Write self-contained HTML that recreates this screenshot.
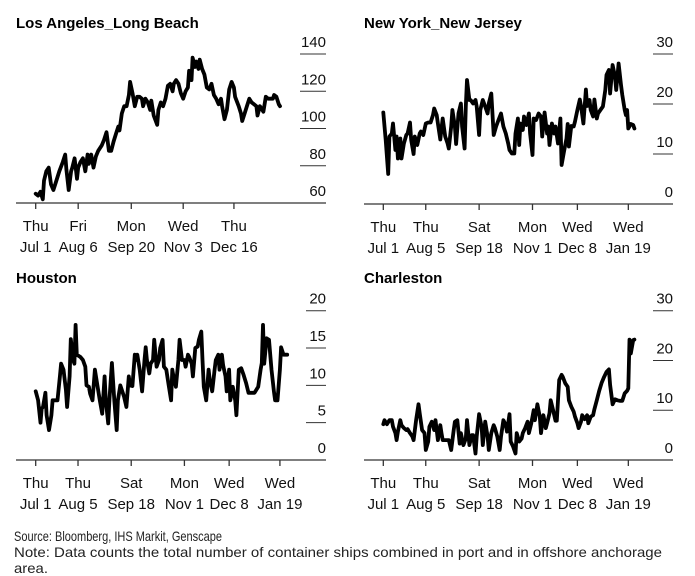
<!DOCTYPE html>
<html><head><meta charset="utf-8"><style>
html,body{margin:0;padding:0;background:#fff;}
svg{display:block;font-family:"Liberation Sans",Arial,sans-serif;}
</style></head><body>
<svg id="c" width="695" height="576" viewBox="0 0 695 576" xmlns="http://www.w3.org/2000/svg">
<g font-size="14" fill="#222">
<text x="14" y="541" textLength="208" lengthAdjust="spacingAndGlyphs">Source: Bloomberg, IHS Markit, Genscape</text>
<text x="14" y="557" textLength="648" lengthAdjust="spacingAndGlyphs">Note: Data counts the total number of container ships combined in port and in offshore anchorage</text>
<text x="14" y="573" textLength="34" lengthAdjust="spacingAndGlyphs">area.</text>
</g>
</svg>
<script>
// ---- data ----
const laDays=[0,2,4,6,7,9,11,13,15,17,20,23,25,26,28,30,31,33,35,36,38,40,42,44,45,47,49,51,53,56,58,60,62,64,66,68,70,71,73,75,77,79,80,82,84,86,88,90,91,93,95,97,98,100,103,104,106,108,110,112,114,116,117,119,121,123,125,127,129,130,132,133,135,136,138,139,141,143,145,147,149,151,153,155,157,158,160,162,164,166,168,169,172,174,175,177,179,181,183,185,187,188,190,191,193,195,197,199,201,202,204,206,207];
const laValues=[65,64,66,62,72,77,79,70,67,71,77,82,86,78,67,77,79,84,73,79,82,84,77,86,81,86,79,85,88,91,94,98,88,88,93,97,101,99,108,112,112,118,125,119,112,117,117,116,112,116,114,110,115,107,102,110,114,112,116,123,124,120,124,126,124,119,116,120,122,131,126,138,133,136,132,137,132,129,122,121,124,118,116,113,116,112,105,110,121,125,122,117,112,108,104,108,112,116,114,113,112,107,112,111,109,117,116,116,116,118,117,113,112];
const nyDays=[0,2,4,5,7,8,10,11,12,14,15,17,19,20,22,23,25,26,28,30,31,33,35,37,39,41,42,44,45,47,48,49,51,53,54,56,57,59,60,62,64,65,67,68,69,71,72,74,76,77,79,80,82,84,86,87,89,91,93,95,97,99,101,103,104,106,108,109,111,112,113,115,116,118,120,121,123,124,126,128,130,131,133,135,136,137,139,141,142,144,146,147,149,151,152,153,155,157,158,160,162,163,165,167,168,170,171,173,174,176,177,179,181,183,184,186,187,189,191,192,194,196,197,199,200,201,202,204,206,207];
const nyValues=[18.3,12.8,6,13.5,14.1,16.1,10.8,13.5,9.1,13.1,9.1,12.1,13.8,14.1,16.3,12.8,10,13.5,11.8,14.1,14.5,13.8,16.1,16.3,16.3,17.8,19.1,17.8,16.1,12.9,15.1,17.1,13.5,12.1,11.1,15.5,18.8,15.5,12,18.1,20.1,15.5,11.1,19.5,24.8,20.8,20.8,20.1,20.8,19.5,13.8,18.8,20.8,19.5,18.1,20.1,22.1,13.8,15.5,16.8,18.1,15.5,14.1,12.1,10.8,10.1,10.1,14.1,17.1,11.8,16.1,14.8,17.5,15.8,18.1,14.1,9.8,17.1,16.8,18.1,17.5,13.5,18.3,14.1,15.5,11.8,16.1,14.1,15.5,12.1,17.1,7.8,10.5,13.1,16,11.5,15.6,15.5,16.5,18.8,20.9,19.6,16.1,22.9,19.6,20.8,18.8,17.5,20.9,17.1,18.1,18.8,19.5,22.8,25.8,26.8,22.1,27.8,25.5,22.8,28.1,23.8,21.8,18.8,17.8,18.8,15.1,16,15.8,15.1];
const hoDays=[0,2,4,5,6,8,9,11,13,14,16,18,20,21,23,25,26,28,29,31,32,33,34,37,39,41,42,44,45,47,49,51,53,55,57,58,60,61,63,65,67,68,70,73,75,77,78,80,82,83,84,86,88,90,91,92,94,95,97,98,100,102,103,105,106,108,110,112,113,114,116,118,119,121,123,124,126,127,129,130,132,134,135,137,138,139,141,143,144,146,148,149,151,152,154,155,157,158,160,161,163,165,166,168,170,172,174,176,179,181,184,186,187,188,189,191,192,193,195,197,198,200,202,203,205,208];
const hoValues=[9.2,8,5,6.9,7.1,9,6,4,6,8,8,8,11.2,12.9,12.1,9.4,7.1,11.2,16.2,13.4,12.9,18.1,14.1,13.8,13.4,12.5,10,9.8,8.9,8,12.1,10,8,6.2,11.2,8,4.9,8,13,8,4,8,10,8.5,7.1,11.2,10,9.9,14.1,13.4,14.1,12.1,9.2,13.4,15.1,13.4,11.6,12.9,13.4,16.1,12.5,13.4,15,16.1,12.5,12.1,10,8,12.1,11.2,9.8,13.4,16.1,13.4,13.4,12.5,14.1,13.8,12.9,11.2,15,15.2,16.1,17.2,13.4,9.8,8,12.1,10.7,9.2,12.1,13.4,14.1,12.1,14.1,12.7,11.2,9.2,12.1,8,9.8,8,6,12.1,12.3,11.4,10.3,9,9,9,9.8,12.1,13,18.1,12.9,16.3,16.2,16.1,12.1,9.2,8,8,12.1,15.1,14.1,14.1];
const chDays=[0,1,3,5,7,8,10,11,12,14,15,17,19,20,22,24,25,27,29,30,32,34,35,37,38,40,42,43,45,47,48,49,52,54,56,58,59,61,63,64,66,68,69,71,73,74,76,77,79,81,82,84,86,87,89,91,92,94,96,97,99,101,102,104,105,107,109,110,112,114,115,117,119,120,122,124,125,127,129,130,132,134,135,137,138,140,142,143,145,147,148,150,152,153,155,157,158,160,161,163,164,166,168,169,171,173,174,176,178,180,182,184,186,187,189,191,193,195,197,199,201,202,203,204,206,207];
const chValues=[7.2,8,7.2,8,8,6.7,5.4,4,5.7,8,7,6.4,6,6.2,5.4,4.7,4,8,11.2,9.4,6,5.4,2,3.7,6.7,7.7,6,8,4,7,5.4,4,4,4,2,6,7.7,8,3.3,5.4,3,4.3,8,3,5,5,1.3,4.7,9.2,6.7,3,7.7,4.7,2,5.4,7,6.4,4.7,2,4.7,8,7,5.7,9.2,3.7,2.7,1.3,5.4,3.7,4.3,5.4,6.4,7.7,5.4,7.4,10,8,11.2,8.7,5.4,9,6.4,7.4,9.4,12,10,7.9,7.9,16.1,17.1,16.7,15.4,14.7,12,10.7,9.7,8.7,7.4,6.4,7.7,9,8.2,9,7.4,8.7,9,10.2,12,13.9,15.5,16.7,17.7,18.2,15.1,11.2,12.2,12,11.9,11.9,13.4,13.9,14.4,24.2,21.4,24.1,24.2];
const laTickDays=[0,36,81,125,168];
const laTickTop=["Thu","Fri","Mon","Wed","Thu"];
const laTickBot=["Jul 1","Aug 6","Sep 20","Nov 3","Dec 16"];
const tickDays=[0,35,79,123,160,202];
const tickTop=["Thu","Thu","Sat","Mon","Wed","Wed"];
const tickBot=["Jul 1","Aug 5","Sep 18","Nov 1","Dec 8","Jan 19"];
const laYTicks=[140,120,100,80,60];
const nyYTicks=[30,20,10,0];
const hoYTicks=[20,15,10,5,0];
const chYTicks=[30,20,10,0];

const NS="http://www.w3.org/2000/svg";
const svg=document.getElementById('c');
function mk(tag,attrs,parent){const e=document.createElementNS(NS,tag);for(const k in attrs)e.setAttribute(k,attrs[k]);(parent||svg).appendChild(e);return e;}

function chart(o){
  const g=mk('g',{});
  
  
  const xs=d=>o.xJul1+d*o.ppd;
  const ys=v=>o.yTop+(o.vTop-v)*(o.axisY-o.yTop)/(o.vTop-o.vBot);
  const t=mk('text',{x:o.x0,y:o.titleY,'font-size':15,'font-weight':'bold',fill:'#000'},g);
  t.textContent=o.title;
  
  
  o.yTicks.forEach(v=>{
    const y=ys(v);
    if(v!==o.vBot){
      const l=mk('line',{x1:o.x1-o.gridLen,x2:o.x1,y1:y,y2:y,stroke:'#333','stroke-width':1},g);
      
      
    }
    const tx=mk('text',{x:o.x1,y:y-7,'font-size':15,'text-anchor':'end',fill:'#111'},g);
    tx.textContent=v;
    
    
  });
  const ax=mk('line',{x1:o.x0,x2:o.x1,y1:o.axisY,y2:o.axisY,stroke:'#333','stroke-width':1.3},g);
  
  
  o.tickDays.forEach((d,i)=>{
    const x=xs(d);
    const tk=mk('line',{x1:x,x2:x,y1:o.axisY,y2:o.axisY+6,stroke:'#333','stroke-width':1.3},g);
    
    
    const a=mk('text',{x:x,y:o.axisY+28,'font-size':15,'text-anchor':'middle',fill:'#111'},g);
    a.textContent=o.tickTop[i];
    
    
    const b=mk('text',{x:x,y:o.axisY+49,'font-size':15,'text-anchor':'middle',fill:'#111'},g);
    b.textContent=o.tickBot[i];
    
    
  });
  const n=Math.min(o.days.length,o.values.length);
  let d='';
  for(let i=0;i<n;i++)d+=(i?'L':'M')+xs(o.days[i]).toFixed(1)+','+ys(o.values[i]).toFixed(1);
  const p=mk('path',{d:d,fill:'none',stroke:'#000','stroke-width':3.8,'stroke-linejoin':'round','stroke-linecap':'round'},g);
  
  
}
chart({name:'chart-los-angeles-long-beach',title:'Los Angeles_Long Beach',x0:16,x1:326,gridLen:26,axisY:203,titleY:28,xJul1:35.7,ppd:1.18,yTop:54,vTop:140,vBot:60,yTicks:laYTicks,tickDays:laTickDays,tickTop:laTickTop,tickBot:laTickBot,days:laDays,values:laValues});
chart({name:'chart-new-york-new-jersey',title:'New York_New Jersey',x0:364,x1:673,gridLen:20,axisY:204,titleY:28,xJul1:383.3,ppd:1.213,yTop:54,vTop:30,vBot:0,yTicks:nyYTicks,tickDays:tickDays,tickTop:tickTop,tickBot:tickBot,days:nyDays,values:nyValues});
chart({name:'chart-houston',title:'Houston',x0:16,x1:326,gridLen:20,axisY:460,titleY:283,xJul1:35.7,ppd:1.209,yTop:310.7,vTop:20,vBot:0,yTicks:hoYTicks,tickDays:tickDays,tickTop:tickTop,tickBot:tickBot,days:hoDays,values:hoValues});
chart({name:'chart-charleston',title:'Charleston',x0:364,x1:673,gridLen:20,axisY:460,titleY:283,xJul1:383.3,ppd:1.213,yTop:310.7,vTop:30,vBot:0,yTicks:chYTicks,tickDays:tickDays,tickTop:tickTop,tickBot:tickBot,days:chDays,values:chValues});
</script>
</body></html>
